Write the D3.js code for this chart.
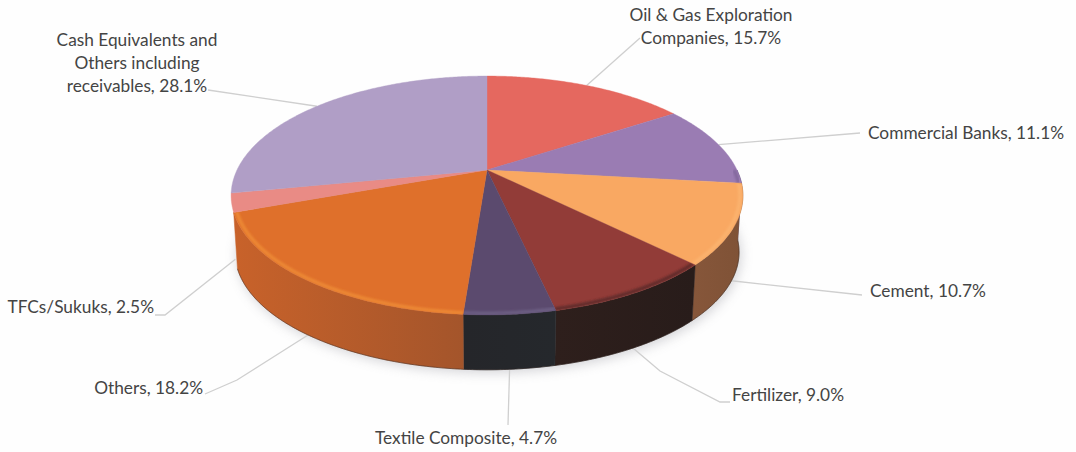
<!DOCTYPE html>
<html>
<head>
<meta charset="utf-8">
<style>
  html, body { margin: 0; padding: 0; background: #fefefe; }
  svg { display: block; }
  text { font-family: Lato, "Open Sans", sans-serif; font-size: 17.3px; fill: #444; }
</style>
<script src="https://cdn.jsdelivr.net/npm/d3@7"></script>
</head>
<body>
<script>
// Portfolio allocation, percent of net assets
const categories = ["Oil & Gas Exploration Companies", "Commercial Banks", "Cement", "Fertilizer",
  "Textile Composite", "Others", "TFCs/Sukuks", "Cash Equivalents and Others including receivables"];
const shares = [15.7, 11.1, 10.7, 9.0, 4.7, 18.2, 2.5, 28.1];
const shareLabels = ["15.7%", "11.1%", "10.7%", "9.0%", "4.7%", "18.2%", "2.5%", "28.1%"];

// Slice appearance
const topColors  = ["#e5685f", "#9a7cb3", "#f9a862", "#923c38", "#5b4a6e", "#df702b", "#e98b85", "#b09ec6"];
const wallLeft   = ["#8a4540", "#5c4a78", "#86563a", "#2e1f1c", "#25262a", "#c8622a", "#b0605c", "#84729c"];
const wallRight  = ["#8a4540", "#3c3058", "#7f5236", "#281c1a", "#25282c", "#a4552b", "#b0605c", "#84729c"];
const rimColors  = ["#e5685f", "#7f649a", "#fcb470", "#5a2a28", "#6e6286", "#ee8c36", "#e98b85", "#b09ec6"];

// Label layout: wrapped lines, text anchor point, elbow of the leader line, leader start level
const labelLines = [
  ["Oil & Gas Exploration", "Companies, " + shareLabels[0]],
  ["Commercial Banks, " + shareLabels[1]],
  ["Cement, " + shareLabels[2]],
  ["Fertilizer, " + shareLabels[3]],
  ["Textile Composite, " + shareLabels[4]],
  ["Others, " + shareLabels[5]],
  ["TFCs/Sukuks, " + shareLabels[6]],
  ["Cash Equivalents and", "Others including", "receivables, " + shareLabels[7]]
];
const labelAnchor = ["middle", "start", "start", "start", "middle", "end", "end", "middle"];
const labelX = [711, 868, 870, 732, 466, 203, 154, 137];
const labelY = [17, 135, 293, 397, 440, 390, 309, 42];
const leaderPath = [
  [[640, 38]],
  [[860, 133]],
  [[862, 295]],
  [[660, 371], [720, 402], [730, 402]],
  [[508, 425]],
  [[237, 380], [205, 394]],
  [[165, 315], [155, 315]],
  [[208, 90]]
];
const leaderFromBottom = [false, false, true, true, true, true, true, false];

const width = 1076, height = 452;
const svg = d3.select("body").append("svg").attr("width", width).attr("height", height);
const defs = svg.append("defs");

// Perspective projection of the disc: angle 0 is the far point, growing clockwise
const cx = 487, cy = 170, radiusX = 250, radiusY = 114, tilt = 0.2135;
const depthY = 57, bottomScale = 0.985, rimInset = 0.988;
function project(angle, bottom, inset = 1) {
  const w = 1 + tilt * Math.cos(angle);
  const s = (bottom ? bottomScale : 1) * inset;
  return [cx + s * radiusX * Math.sin(angle) / w,
          cy + (bottom ? depthY : 0) - s * radiusY * Math.cos(angle) / w];
}
const samples = (a0, a1) => {
  const n = Math.max(2, Math.ceil((a1 - a0) / 0.01));
  return d3.range(n + 1).map(i => a0 + (a1 - a0) * i / n);
};

const slices = d3.pie().sort(null).value(d => d)(shares);
const line = d3.line();

defs.append("filter").attr("id", "shadowBlur")
  .attr("x", "-10%").attr("y", "-20%").attr("width", "120%").attr("height", "140%")
  .append("feGaussianBlur").attr("stdDeviation", 6);
defs.append("filter").attr("id", "rimBlur")
  .attr("x", "-10%").attr("y", "-20%").attr("width", "120%").attr("height", "140%")
  .append("feGaussianBlur").attr("stdDeviation", 1.2);

// Soft shadow under the disc
svg.append("path")
  .attr("d", line(samples(0, 2 * Math.PI).map(a => {
    const p = project(a, true);
    return [p[0] + 2, p[1] + 3];
  })) + "Z")
  .attr("fill", "#a0a0a8").attr("opacity", 0.45).attr("filter", "url(#shadowBlur)");

// Leader lines run under the disc, starting at each slice's mid angle
svg.append("g").selectAll("path").data(slices).join("path")
  .attr("d", (d, i) => line([project((d.startAngle + d.endAngle) / 2, leaderFromBottom[i]), ...leaderPath[i]]))
  .attr("fill", "none").attr("stroke", "#cfcfcf").attr("stroke-width", 1.3);

// Front walls, from the right edge round to the end of the Others slice
const wallFrom = Math.PI / 2;
const wallTo = slices[5].endAngle;
const walls = svg.append("g");
slices.forEach((d, i) => {
  const a0 = Math.max(d.startAngle, wallFrom), a1 = Math.min(d.endAngle, wallTo);
  if (a1 <= a0) return;
  const top = samples(a0, a1).map(a => project(a, false));
  const bottom = samples(a0, a1).map(a => project(a, true)).reverse();
  const xs = top.map(p => p[0]);
  const grad = defs.append("linearGradient").attr("id", "wall" + i)
    .attr("gradientUnits", "userSpaceOnUse")
    .attr("x1", d3.min(xs)).attr("x2", d3.max(xs)).attr("y1", 0).attr("y2", 0);
  grad.append("stop").attr("offset", 0).attr("stop-color", wallLeft[i]);
  grad.append("stop").attr("offset", 1).attr("stop-color", wallRight[i]);
  walls.append("path")
    .attr("d", line(top.concat(bottom)) + "Z")
    .attr("fill", `url(#wall${i})`)
    .attr("stroke", `url(#wall${i})`).attr("stroke-width", 0.5);
  // Darker seam along the lower edge
  walls.append("path")
    .attr("d", line(bottom))
    .attr("fill", "none").attr("stroke", "#2a1c18").attr("stroke-opacity", 0.45).attr("stroke-width", 1);
});

// Top faces
const faces = svg.append("g");
slices.forEach((d, i) => {
  const outline = [[cx, cy], ...samples(d.startAngle, d.endAngle).map(a => project(a, false))];
  const id = "face" + i;
  defs.append("clipPath").attr("id", id).append("path").attr("d", line(outline) + "Z");
  faces.append("path").attr("d", line(outline) + "Z")
    .attr("fill", topColors[i]).attr("stroke", topColors[i]).attr("stroke-width", 0.4);
  // Bevel highlight set just inside the near rim, clipped to the slice
  const a0 = Math.max(d.startAngle, wallFrom), a1 = Math.min(d.endAngle, wallTo);
  if (a1 > a0) {
    faces.append("g").attr("clip-path", `url(#${id})`)
      .append("path")
      .attr("d", line(samples(a0, a1).map(a => project(a, false, rimInset))))
      .attr("fill", "none").attr("stroke", rimColors[i]).attr("stroke-width", 3.5)
      .attr("stroke-opacity", 0.85)
      .attr("filter", "url(#rimBlur)");
  }
});

// Category labels
const labels = svg.append("g");
labelLines.forEach((rows, i) => {
  const t = labels.append("text").attr("text-anchor", labelAnchor[i]);
  rows.forEach((row, k) => {
    t.append("tspan").attr("x", labelX[i]).attr("y", labelY[i] + k * 23)
      .attr("dominant-baseline", "middle").text(row);
  });
});
</script>
</body>
</html>
